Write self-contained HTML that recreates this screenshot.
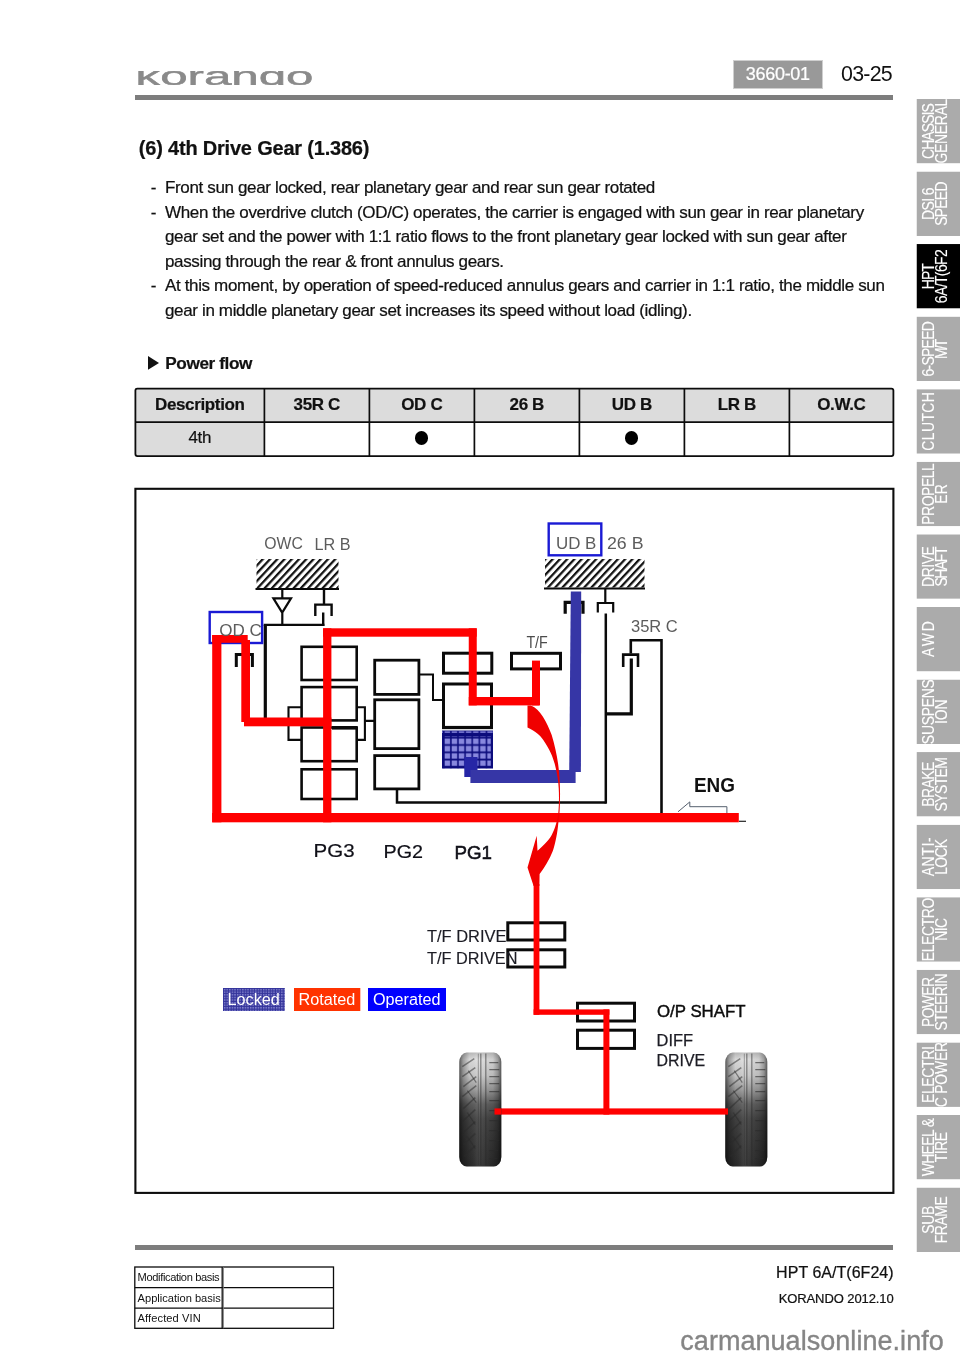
<!DOCTYPE html>
<html lang="en">
<head>
<meta charset="utf-8">
<title>(6) 4th Drive Gear (1.386) - KORANDO 2012.10</title>
<style>
html,body{margin:0;padding:0;background:#fff;}
body{width:960px;height:1358px;position:relative;overflow:hidden;will-change:transform;font-family:"Liberation Sans",sans-serif;}
.t{position:absolute;white-space:nowrap;line-height:1;margin:0;padding:0;-webkit-text-stroke:0.22px currentColor;}
.abs{position:absolute;}
.rule{position:absolute;left:135px;width:758px;background:#7d7d7d;}
table{border-collapse:collapse;position:absolute;table-layout:fixed;}
#pf td,#pf th{-webkit-text-stroke:0.2px currentColor;border:0;padding:0 0 1.2px 0;text-align:center;font-size:17px;letter-spacing:-0.35px;color:#111;}
#pf th{background:#dcdcdc;font-weight:700;}
#pf td.h{background:#dcdcdc;padding-bottom:2.8px;}
.dot{display:inline-block;width:13.4px;height:13.4px;border-radius:50%;background:#000;vertical-align:middle;position:relative;top:-1px;}
#ft td{border:0;padding:0 0 0 2.9px;font-size:11.1px;letter-spacing:0;line-height:12px;color:#111;white-space:nowrap;overflow:hidden;}
svg text{font-family:"Liberation Sans",sans-serif;}
</style>
</head>
<body>

<!-- header -->
<div class="abs" id="logo" style="left:135px;top:70.6px;width:180px;height:14.6px;overflow:hidden;"><svg width="180" height="15" viewBox="0 0 180 15" style="display:block"><text x="0.5" y="13.9" font-size="25.6" font-weight="400" fill="#8a8a8a" stroke="#8a8a8a" stroke-width="0.45" textLength="178" lengthAdjust="spacingAndGlyphs">korando</text></svg></div>
<div class="rule" style="top:95px;height:5px;"></div>
<div class="abs" style="left:733px;top:60px;width:89.5px;height:28.5px;background:#999;box-sizing:border-box;border:1.5px solid #cfcfcf;"></div>
<div class="t " style="left:745.8px;top:65.16px;font-size:18px;letter-spacing:-0.3px;font-weight:400;color:#fff;">3660-01</div>
<div class="t " style="left:841px;top:63.88px;font-size:21.4px;letter-spacing:-0.75px;font-weight:400;color:#111;-webkit-text-stroke:0;">03-25</div>
<!-- side tabs -->
<svg class="abs" id="tabs" style="left:0;top:0;" width="960" height="1358" viewBox="0 0 960 1358">
<svg x="916.5" y="98.90" width="43.5" height="64.5">
<rect width="43.5" height="64.5" fill="#ababab"/>
<text transform="translate(17.7 32.2) rotate(-90) scale(0.87 1)" x="-0.49" text-anchor="middle" font-size="16.0" letter-spacing="-0.99" fill="#fff" stroke="#fff" stroke-width="0.12">CHASSIS</text>
<text transform="translate(30.1 32.2) rotate(-90) scale(0.87 1)" x="-0.18" text-anchor="middle" font-size="16.0" letter-spacing="-0.35" fill="#fff" stroke="#fff" stroke-width="0.12">GENERAL</text>
</svg>
<svg x="916.5" y="171.48" width="43.5" height="64.5">
<rect width="43.5" height="64.5" fill="#ababab"/>
<text transform="translate(17.7 32.2) rotate(-90) scale(0.87 1)" x="-0.34" text-anchor="middle" font-size="16.0" letter-spacing="-0.68" fill="#fff" stroke="#fff" stroke-width="0.12">DSI 6</text>
<text transform="translate(30.1 32.2) rotate(-90) scale(0.87 1)" x="-0.41" text-anchor="middle" font-size="16.0" letter-spacing="-0.81" fill="#fff" stroke="#fff" stroke-width="0.12">SPEED</text>
</svg>
<svg x="916.5" y="244.05" width="43.5" height="64.5">
<rect width="43.5" height="64.5" fill="#000"/>
<text transform="translate(17.7 32.2) rotate(-90) scale(0.87 1)" x="-0.46" text-anchor="middle" font-size="16.0" letter-spacing="-0.92" fill="#fff" stroke="#fff" stroke-width="0.12">HPT</text>
<text transform="translate(30.1 32.2) rotate(-90) scale(0.87 1)" x="-0.33" text-anchor="middle" font-size="16.0" letter-spacing="-0.65" fill="#fff" stroke="#fff" stroke-width="0.12">6A/T(6F2</text>
</svg>
<svg x="916.5" y="316.62" width="43.5" height="64.5">
<rect width="43.5" height="64.5" fill="#ababab"/>
<text transform="translate(17.7 32.2) rotate(-90) scale(0.87 1)" x="-0.42" text-anchor="middle" font-size="16.0" letter-spacing="-0.83" fill="#fff" stroke="#fff" stroke-width="0.12">6-SPEED</text>
<text transform="translate(30.1 32.2) rotate(-90) scale(0.87 1)" x="-1.08" text-anchor="middle" font-size="16.0" letter-spacing="-2.17" fill="#fff" stroke="#fff" stroke-width="0.12">M/T</text>
</svg>
<svg x="916.5" y="389.20" width="43.5" height="64.5">
<rect width="43.5" height="64.5" fill="#ababab"/>
<text transform="translate(17.7 32.2) rotate(-90) scale(0.87 1)" x="0.25" text-anchor="middle" font-size="16.0" letter-spacing="0.50" fill="#fff" stroke="#fff" stroke-width="0.12">CLUTCH</text>
</svg>
<svg x="916.5" y="461.77" width="43.5" height="64.5">
<rect width="43.5" height="64.5" fill="#ababab"/>
<text transform="translate(17.7 32.2) rotate(-90) scale(0.87 1)" x="-0.25" text-anchor="middle" font-size="16.0" letter-spacing="-0.50" fill="#fff" stroke="#fff" stroke-width="0.12">PROPELL</text>
<text transform="translate(30.1 32.2) rotate(-90) scale(0.87 1)" x="0.23" text-anchor="middle" font-size="16.0" letter-spacing="0.46" fill="#fff" stroke="#fff" stroke-width="0.12">ER</text>
</svg>
<svg x="916.5" y="534.35" width="43.5" height="64.5">
<rect width="43.5" height="64.5" fill="#ababab"/>
<text transform="translate(17.7 32.2) rotate(-90) scale(0.87 1)" x="-0.25" text-anchor="middle" font-size="16.0" letter-spacing="-0.49" fill="#fff" stroke="#fff" stroke-width="0.12">DRIVE</text>
<text transform="translate(30.1 32.2) rotate(-90) scale(0.87 1)" x="-0.80" text-anchor="middle" font-size="16.0" letter-spacing="-1.59" fill="#fff" stroke="#fff" stroke-width="0.12">SHAFT</text>
</svg>
<svg x="916.5" y="606.93" width="43.5" height="64.5">
<rect width="43.5" height="64.5" fill="#ababab"/>
<text transform="translate(17.7 32.2) rotate(-90) scale(0.87 1)" x="1.13" text-anchor="middle" font-size="16.0" letter-spacing="2.25" fill="#fff" stroke="#fff" stroke-width="0.12">AWD</text>
</svg>
<svg x="916.5" y="679.50" width="43.5" height="64.5">
<rect width="43.5" height="64.5" fill="#ababab"/>
<text transform="translate(17.7 32.2) rotate(-90) scale(0.87 1)" x="-0.16" text-anchor="middle" font-size="16.0" letter-spacing="-0.31" fill="#fff" stroke="#fff" stroke-width="0.12">SUSPENS</text>
<text transform="translate(30.1 32.2) rotate(-90) scale(0.87 1)" x="-0.04" text-anchor="middle" font-size="16.0" letter-spacing="-0.09" fill="#fff" stroke="#fff" stroke-width="0.12">ION</text>
</svg>
<svg x="916.5" y="752.08" width="43.5" height="64.5">
<rect width="43.5" height="64.5" fill="#ababab"/>
<text transform="translate(17.7 32.2) rotate(-90) scale(0.87 1)" x="-0.32" text-anchor="middle" font-size="16.0" letter-spacing="-0.65" fill="#fff" stroke="#fff" stroke-width="0.12">BRAKE</text>
<text transform="translate(30.1 32.2) rotate(-90) scale(0.87 1)" x="-0.33" text-anchor="middle" font-size="16.0" letter-spacing="-0.67" fill="#fff" stroke="#fff" stroke-width="0.12">SYSTEM</text>
</svg>
<svg x="916.5" y="824.65" width="43.5" height="64.5">
<rect width="43.5" height="64.5" fill="#ababab"/>
<text transform="translate(17.7 32.2) rotate(-90) scale(0.87 1)" x="0.38" text-anchor="middle" font-size="16.0" letter-spacing="0.76" fill="#fff" stroke="#fff" stroke-width="0.12">ANTI-</text>
<text transform="translate(30.1 32.2) rotate(-90) scale(0.87 1)" x="-0.38" text-anchor="middle" font-size="16.0" letter-spacing="-0.75" fill="#fff" stroke="#fff" stroke-width="0.12">LOCK</text>
</svg>
<svg x="916.5" y="897.23" width="43.5" height="64.5">
<rect width="43.5" height="64.5" fill="#ababab"/>
<text transform="translate(17.7 32.2) rotate(-90) scale(0.87 1)" x="-0.21" text-anchor="middle" font-size="16.0" letter-spacing="-0.42" fill="#fff" stroke="#fff" stroke-width="0.12">ELECTRO</text>
<text transform="translate(30.1 32.2) rotate(-90) scale(0.87 1)" x="-0.30" text-anchor="middle" font-size="16.0" letter-spacing="-0.60" fill="#fff" stroke="#fff" stroke-width="0.12">NIC</text>
</svg>
<svg x="916.5" y="969.80" width="43.5" height="64.5">
<rect width="43.5" height="64.5" fill="#ababab"/>
<text transform="translate(17.7 32.2) rotate(-90) scale(0.87 1)" x="-0.36" text-anchor="middle" font-size="16.0" letter-spacing="-0.72" fill="#fff" stroke="#fff" stroke-width="0.12">POWER</text>
<text transform="translate(30.1 32.2) rotate(-90) scale(0.87 1)" x="-0.32" text-anchor="middle" font-size="16.0" letter-spacing="-0.64" fill="#fff" stroke="#fff" stroke-width="0.12">STEERIN</text>
</svg>
<svg x="916.5" y="1042.38" width="43.5" height="64.5">
<rect width="43.5" height="64.5" fill="#ababab"/>
<text transform="translate(17.7 32.2) rotate(-90) scale(0.87 1)" x="-0.16" text-anchor="middle" font-size="16.0" letter-spacing="-0.32" fill="#fff" stroke="#fff" stroke-width="0.12">ELECTRI</text>
<text transform="translate(30.1 32.2) rotate(-90) scale(0.87 1)" x="-0.12" text-anchor="middle" font-size="16.0" letter-spacing="-0.23" fill="#fff" stroke="#fff" stroke-width="0.12">C POWER</text>
</svg>
<svg x="916.5" y="1114.95" width="43.5" height="64.5">
<rect width="43.5" height="64.5" fill="#ababab"/>
<text transform="translate(17.7 32.2) rotate(-90) scale(0.87 1)" x="-0.36" text-anchor="middle" font-size="16.0" letter-spacing="-0.72" fill="#fff" stroke="#fff" stroke-width="0.12">WHEEL &amp;</text>
<text transform="translate(30.1 32.2) rotate(-90) scale(0.87 1)" x="-0.25" text-anchor="middle" font-size="16.0" letter-spacing="-0.51" fill="#fff" stroke="#fff" stroke-width="0.12">TIRE</text>
</svg>
<svg x="916.5" y="1187.53" width="43.5" height="64.5">
<rect width="43.5" height="64.5" fill="#ababab"/>
<text transform="translate(17.7 32.2) rotate(-90) scale(0.87 1)" x="-0.23" text-anchor="middle" font-size="16.0" letter-spacing="-0.45" fill="#fff" stroke="#fff" stroke-width="0.12">SUB</text>
<text transform="translate(30.1 32.2) rotate(-90) scale(0.87 1)" x="-0.24" text-anchor="middle" font-size="16.0" letter-spacing="-0.48" fill="#fff" stroke="#fff" stroke-width="0.12">FRAME</text>
</svg>
</svg>
<!-- content -->
<div class="t " style="left:138.8px;top:138.07px;font-size:20px;letter-spacing:-0.2px;font-weight:700;color:#111;">(6) 4th Drive Gear (1.386)</div>
<div class="t " style="left:150.8px;top:179.01px;font-size:17px;letter-spacing:0px;font-weight:400;color:#111;">-</div>
<div class="t " style="left:165px;top:179.01px;font-size:17px;letter-spacing:-0.355px;font-weight:400;color:#111;">Front sun gear locked, rear planetary gear and rear sun gear rotated</div>
<div class="t " style="left:150.8px;top:203.58px;font-size:17px;letter-spacing:0px;font-weight:400;color:#111;">-</div>
<div class="t " style="left:165px;top:203.58px;font-size:17px;letter-spacing:-0.355px;font-weight:400;color:#111;">When the overdrive clutch (OD/C) operates, the carrier is engaged with sun gear in rear planetary</div>
<div class="t " style="left:165px;top:228.15px;font-size:17px;letter-spacing:-0.355px;font-weight:400;color:#111;">gear set and the power with 1:1 ratio flows to the front planetary gear locked with sun gear after</div>
<div class="t " style="left:165px;top:252.72px;font-size:17px;letter-spacing:-0.355px;font-weight:400;color:#111;">passing through the rear &amp; front annulus gears.</div>
<div class="t " style="left:150.8px;top:277.29px;font-size:17px;letter-spacing:0px;font-weight:400;color:#111;">-</div>
<div class="t " style="left:165px;top:277.29px;font-size:17px;letter-spacing:-0.355px;font-weight:400;color:#111;">At this moment, by operation of speed-reduced annulus gears and carrier in 1:1 ratio, the middle sun</div>
<div class="t " style="left:165px;top:301.86px;font-size:17px;letter-spacing:-0.355px;font-weight:400;color:#111;">gear in middle planetary gear set increases its speed without load (idling).</div>
<svg class="abs" style="left:148px;top:356px;" width="12" height="14" viewBox="0 0 12 14"><polygon points="0,0 11,6.9 0,13.8" fill="#111"/></svg>
<div class="t " style="left:165.3px;top:354.94px;font-size:17.2px;letter-spacing:-0.4px;font-weight:700;color:#111;">Power flow</div>
<table id="pf" style="left:135.3px;top:388.4px;width:758px;">
<colgroup><col style="width:129px"><col style="width:105px"><col style="width:105px"><col style="width:105px"><col style="width:105px"><col style="width:105px"><col style="width:104px"></colgroup>
<tr style="height:34px"><th>Description</th><th>35R C</th><th>OD C</th><th>26 B</th><th>UD B</th><th>LR B</th><th>O.W.C</th></tr>
<tr style="height:33.6px"><td class="h">4th</td><td></td><td><span class="dot"></span></td><td></td><td><span class="dot"></span></td><td></td><td></td></tr>
</table>
<svg class="abs" style="left:0;top:0;pointer-events:none" width="960" height="1358" viewBox="0 0 960 1358"><g fill="none" stroke="#0c0c0c" stroke-width="1.5"><rect x="135.4" y="388.6" width="758" height="67.5" rx="2" stroke-width="1.8"/><path d="M135.4 422.2H893.4" stroke-width="1.8"/><path stroke-width="1.7" d="M264.4 388.6V456.1M369.4 388.6V456.1M474.4 388.6V456.1M579.4 388.6V456.1M684.4 388.6V456.1M789.4 388.6V456.1"/><rect x="135.4" y="488.8" width="758" height="704.1" stroke-width="2.1"/><g stroke-width="1.3"><rect x="134.8" y="1267" width="198.7" height="61.3"/><path d="M134.8 1287.6H333.5M134.8 1308.1H333.5M222.2 1267V1328.3"/><path d="M223.4 1267V1328.3" stroke="#777" stroke-width="0.9"/></g></g></svg>
<svg class="abs" id="diagram" style="left:0;top:0;" width="960" height="1358" viewBox="0 0 960 1358">
<defs>
  <pattern id="hatch" width="5.3" height="5.3" patternUnits="userSpaceOnUse" patternTransform="rotate(-47)">
    <rect x="0" y="0" width="5.3" height="2.25" fill="#111"/>
  </pattern>
  <pattern id="grid" x="443.1" y="729.9" width="7.1" height="7.3" patternUnits="userSpaceOnUse">
    <rect width="7.1" height="7.3" fill="#0c0c7c"/>
    <rect x="1.5" y="1.4" width="5.5" height="5.5" fill="#8888de"/>
  </pattern>
  <pattern id="fine" x="223" y="988" width="2.6" height="2.6" patternUnits="userSpaceOnUse">
    <rect width="2.6" height="2.6" fill="#33339a"/>
    <rect x="1" y="1" width="1.3" height="1.3" fill="#9a9ade"/>
  </pattern>
  <linearGradient id="tireV" x1="0" y1="0" x2="0" y2="1">
    <stop offset="0" stop-color="#bdbdbd"/>
    <stop offset="0.06" stop-color="#e0e0e0"/>
    <stop offset="0.2" stop-color="#cacaca"/>
    <stop offset="0.33" stop-color="#989898"/>
    <stop offset="0.45" stop-color="#5c5c5c"/>
    <stop offset="0.58" stop-color="#404040"/>
    <stop offset="0.75" stop-color="#363636"/>
    <stop offset="1" stop-color="#2a2a2a"/>
  </linearGradient>
  <linearGradient id="tireH" x1="0" y1="0" x2="1" y2="0">
    <stop offset="0" stop-color="#000" stop-opacity="0.6"/>
    <stop offset="0.09" stop-color="#000" stop-opacity="0.3"/>
    <stop offset="0.24" stop-color="#000" stop-opacity="0.04"/>
    <stop offset="0.45" stop-color="#fff" stop-opacity="0.1"/>
    <stop offset="0.8" stop-color="#000" stop-opacity="0.08"/>
    <stop offset="0.92" stop-color="#000" stop-opacity="0.3"/>
    <stop offset="1" stop-color="#000" stop-opacity="0.6"/>
  </linearGradient>
  </defs>

<!-- ===== black structure ===== -->
<g fill="none" stroke="#0a0a0a" stroke-linecap="butt" stroke-linejoin="miter">
  <!-- ground hatches -->
  <rect x="256.5" y="559" width="82" height="29" fill="url(#hatch)" stroke="none"/>
  <path d="M255.5 589H339" stroke-width="2.2"/>
  <rect x="545" y="559" width="99.5" height="28.5" fill="url(#hatch)" stroke="none"/>
  <path d="M544 588.5H645" stroke-width="2.2"/>

  <!-- OWC triangle + LR B brake -->
  <path d="M282.3 589V598M273.4 598.4H291L282.2 612.6ZM282.3 612V624.8" stroke-width="2.2"/>
  <path d="M324 589V604M315.3 616V604.6H331.6V616M323.2 612.5V625.9" stroke-width="2.4"/>
  <path d="M265.3 718V624.8" stroke-width="3.2"/>
  <path d="M263.7 624.8H324.4" stroke-width="2.3"/>

  <!-- OD C clutch bracket -->
  <path d="M236.3 667V654.6H252.4V667" stroke-width="3"/>

  <!-- PG3 -->
  <rect x="301.6" y="646.8" width="55.1" height="33.2" stroke-width="2.6"/>
  <rect x="301.6" y="687.1" width="55.1" height="33.3" stroke-width="2.6"/>
  <rect x="301.6" y="727.5" width="55.1" height="33.7" stroke-width="2.6"/>
  <path d="M332 727.8H357" stroke-width="3.6"/>
  <rect x="301.6" y="769.3" width="55.1" height="29.7" stroke-width="2.6"/>
  <path d="M301 707.2H288.5V739.9H301M357.3 707.2H364.9V739.9H357.3M364.9 720.9H374" stroke-width="2.1"/>

  <!-- PG2 -->
  <rect x="374.7" y="660.2" width="44.2" height="34.2" stroke-width="2.8"/>
  <rect x="374.7" y="699.8" width="44.2" height="48.8" stroke-width="2.8"/>
  <rect x="374.7" y="755.6" width="44.2" height="33.3" stroke-width="2.8"/>
  <path d="M420 674.6H433V700H443" stroke-width="2"/>
  <path d="M397 789.5V802.5H605.8" stroke-width="2.5"/>

  <!-- PG1 -->
  <rect x="443.5" y="653.2" width="48.3" height="20" stroke-width="3"/>
  <rect x="443.5" y="684" width="48" height="43.4" stroke-width="3"/>
  <path d="M442 727.6H493" stroke-width="3.4"/>

  <!-- T/F -->
  <rect x="511.5" y="653.3" width="49" height="15.6" stroke-width="3"/>

  <!-- UD B / 26 B brakes -->
  <path d="M565.2 613.8V602.4H583V613.8" stroke-width="3.2"/>
  <path d="M605.3 588.5V602M597.8 612.5V603H613.2V612.5" stroke-width="2.2"/>
  <path d="M605.8 613.5V803.7" stroke-width="2.5"/>

  <!-- 35R C -->
  <path d="M630.8 653.5V640.3H661.5V813" stroke-width="2.6"/>
  <path d="M623.2 667V654.6H638V667" stroke-width="2.6"/>
  <path d="M631.3 658.5V713.8H605.8" stroke-width="3.2"/>

  <!-- ENG arrow outline -->
  <path d="M726.9 813V806.7H689.8V801.9L678 811.8" stroke="#56606e" stroke-width="1"/>
  <path d="M739 821.3H746" stroke-width="1.2" stroke="#222"/>

  <!-- T/F drive / driven / OP shaft / diff -->
  <rect x="507.8" y="922.8" width="57" height="17.2" stroke-width="3"/>
  <rect x="507.8" y="949.8" width="57" height="17.2" stroke-width="3"/>
  <rect x="577.5" y="1003.2" width="57" height="17.8" stroke-width="3"/>
  <rect x="577.5" y="1030.2" width="57" height="18.2" stroke-width="3"/>
</g>

<!-- ===== blue (operated / locked) ===== -->
<rect x="442" y="730.3" width="51" height="38" fill="url(#grid)"/>
<rect x="442" y="732.9" width="51" height="3.5" fill="#0c0c7c"/>
<rect x="443.1" y="734" width="48.8" height="33.3" fill="none" stroke="#0c0c7c" stroke-width="2.2"/>
<rect x="442" y="729.3" width="51" height="1.2" fill="#fff" fill-opacity="0.6"/>
<g fill="#3636a6">
  <rect x="464.3" y="757" width="13.2" height="20" fill="#2626a6"/>
  <rect x="470.4" y="770" width="105.2" height="13"/>
  <polygon points="570.8,591.5 581.2,591.5 580.9,772 569.2,772"/>
</g>
<g fill="none" stroke="#1a1ad4" stroke-width="2.4">
  <rect x="209.7" y="612" width="52.4" height="31"/>
  <rect x="548.7" y="523.5" width="52.6" height="31.8"/>
</g>

<!-- ===== red (rotated) ===== -->
<g fill="#ff0000">
  <rect x="212.2" y="635" width="9.2" height="187.3"/>
  <rect x="212.2" y="635" width="35.5" height="7.8"/>
  <rect x="241.3" y="640" width="8.7" height="82"/>
  <rect x="244" y="717.5" width="87.4" height="8.8"/>
  <rect x="323.1" y="628.3" width="8.3" height="194"/>
  <rect x="323.1" y="628.3" width="153.6" height="8.4"/>
  <rect x="468.75" y="628.3" width="8" height="77.1"/>
  <rect x="468.75" y="697" width="70.5" height="8.4"/>
  <rect x="532" y="660.6" width="8" height="44.8"/>
  <rect x="212.2" y="813" width="526.6" height="9.3"/>
  <rect x="533.6" y="884" width="5.8" height="130.8"/>
  <rect x="533.6" y="1009.4" width="75.8" height="5.4"/>
  <rect x="603.4" y="1009.4" width="6" height="105.2"/>
  <rect x="494" y="1108.4" width="234" height="6.2"/>
  <!-- curved arrow -->
  <path fill="#f00000" d="M527.5 705.4 L531 705.4 C540 709 547 722 551.7 735 C555 746 557.6 758 558.6 768 C559.8 778 560.2 790 560 797 C560 806 559.6 815 558.3 823.3 C557.6 832 555.5 843 553 850.5 C549.5 860 544 868 539.6 874 L539.4 886 L533.6 886 L527.5 867.5 L536.7 835.8 L537.5 850.8 C543 846 549 840 551.7 835 C555 829 557.6 820 558.3 813.3 C559 806 559.2 796 558.7 788.3 C558.4 782 557.8 776 555 765 C553 757 550 750 543.3 740 C540 735 536 731.5 527.5 727.5 Z"/>
</g>

<!-- ===== tires ===== -->
<g transform="translate(459.3 1052.6)">
    <rect x="0" y="0" width="42" height="114" rx="7.5" ry="9.5" fill="url(#tireV)"/>
    <rect x="0" y="0" width="42" height="114" rx="7.5" ry="9.5" fill="url(#tireH)"/>
    <g stroke="#2a2a2a" stroke-opacity="0.5" fill="none">
      <path d="M21.5 1V113M26.5 1V113" stroke-width="1.3"/>
      <path d="M19 1V113" stroke-width="0.8" stroke-opacity="0.5"/>
      <path d="M3 14L15 6M3 24L16 15M4 34L17 24M3 44L17 33M4 56L16 45M4 68L16 57M4 80L16 69M4 92L16 81M5 104L16 93" stroke-width="1.5"/>
      <path d="M9 18L17 30M8 38L17 50M8 60L16 72M8 84L16 96" stroke-width="1.2"/>
      <path d="M30 10H39M30 17H40M30 24H40M30 31H40M30 39H40M30 48H40M30 58H40M30 68H40M30 78H40M30 88H40M30 98H39M30 106H38" stroke-width="1.2" stroke-opacity="0.6"/>
    </g>
</g>
<g transform="translate(725.3 1052.6)">
    <rect x="0" y="0" width="42" height="114" rx="7.5" ry="9.5" fill="url(#tireV)"/>
    <rect x="0" y="0" width="42" height="114" rx="7.5" ry="9.5" fill="url(#tireH)"/>
    <g stroke="#2a2a2a" stroke-opacity="0.5" fill="none">
      <path d="M21.5 1V113M26.5 1V113" stroke-width="1.3"/>
      <path d="M19 1V113" stroke-width="0.8" stroke-opacity="0.5"/>
      <path d="M3 14L15 6M3 24L16 15M4 34L17 24M3 44L17 33M4 56L16 45M4 68L16 57M4 80L16 69M4 92L16 81M5 104L16 93" stroke-width="1.5"/>
      <path d="M9 18L17 30M8 38L17 50M8 60L16 72M8 84L16 96" stroke-width="1.2"/>
      <path d="M30 10H39M30 17H40M30 24H40M30 31H40M30 39H40M30 48H40M30 58H40M30 68H40M30 78H40M30 88H40M30 98H39M30 106H38" stroke-width="1.2" stroke-opacity="0.6"/>
    </g>
</g>
<rect x="494.5" y="1108.4" width="7" height="6.2" fill="#ff0000"/>
<rect x="725" y="1108.4" width="3" height="6.2" fill="#ff0000"/>

<!-- ===== legend ===== -->
<rect x="223" y="988" width="61.8" height="23" fill="url(#fine)"/>
<rect x="294" y="988" width="66.3" height="23" fill="#ff3300"/>
<rect x="368" y="988" width="78" height="23" fill="#0000ff"/>

<!-- ===== labels ===== -->
<g font-size="16" fill="#5c5c5c">
  <text x="264.2" y="548.8" textLength="38.6" lengthAdjust="spacingAndGlyphs">OWC</text>
  <text x="314.6" y="550.4" textLength="36" lengthAdjust="spacingAndGlyphs">LR B</text>
  <text x="556" y="549" textLength="40.4" lengthAdjust="spacingAndGlyphs">UD B</text>
  <text x="607" y="549" textLength="36.5" lengthAdjust="spacingAndGlyphs">26 B</text>
  <text x="219.2" y="635.6" textLength="42.6" lengthAdjust="spacingAndGlyphs">OD C</text>
  <text x="526.4" y="648.2" font-size="15.8" fill="#4c4c4c" textLength="21.4" lengthAdjust="spacingAndGlyphs">T/F</text>
  <text x="631" y="632.2" textLength="46.8" lengthAdjust="spacingAndGlyphs">35R C</text>
</g>
<text x="694" y="792" font-size="20" font-weight="700" fill="#111" textLength="41" lengthAdjust="spacingAndGlyphs">ENG</text>
<g font-size="19" fill="#101018" stroke="#101018" stroke-width="0.2">
  <text x="313.6" y="856.5" textLength="41" lengthAdjust="spacingAndGlyphs">PG3</text>
  <text x="383.6" y="857.5" textLength="39.5" lengthAdjust="spacingAndGlyphs">PG2</text>
  <text x="454.4" y="858.5" textLength="37.5" lengthAdjust="spacingAndGlyphs" stroke="#101018" stroke-width="0.55">PG1</text>
</g>
<g font-size="16" fill="#1c1c24" stroke="#1c1c24" stroke-width="0.15">
  <text x="427" y="942" textLength="79.5" lengthAdjust="spacingAndGlyphs">T/F DRIVE</text>
  <text x="427" y="964.4" textLength="90.5" lengthAdjust="spacingAndGlyphs">T/F DRIVEN</text>
  <text x="657" y="1017" textLength="88.6" lengthAdjust="spacingAndGlyphs" fill="#0c0c0c" stroke="#0c0c0c" stroke-width="0.4">O/P SHAFT</text>
  <text x="656.6" y="1045.5" textLength="36.4" lengthAdjust="spacingAndGlyphs" stroke="#1c1c24" stroke-width="0.25">DIFF</text>
  <text x="656.6" y="1066" textLength="48.6" lengthAdjust="spacingAndGlyphs" stroke="#1c1c24" stroke-width="0.25">DRIVE</text>
</g>
<g font-size="16" fill="#fff">
  <text x="227.5" y="1004.7" textLength="52.3" lengthAdjust="spacingAndGlyphs">Locked</text>
  <text x="298.5" y="1004.7" textLength="56.8" lengthAdjust="spacingAndGlyphs">Rotated</text>
  <text x="373" y="1004.7" textLength="67.5" lengthAdjust="spacingAndGlyphs">Operated</text>
</g>
</svg>

<!-- footer -->
<div class="rule" style="top:1245px;height:5px;"></div>
<table id="ft" style="left:134.7px;top:1266.9px;width:198.7px;">
<colgroup><col style="width:87.8px"><col style="width:110.9px"></colgroup>
<tr style="height:20.5px"><td style="letter-spacing:-0.36px">Modification basis</td><td></td></tr>
<tr style="height:20.5px"><td>Application basis</td><td></td></tr>
<tr style="height:20.5px"><td style="letter-spacing:0.1px">Affected VIN</td><td></td></tr>
</table>
<div class="t " style="right:66.39999999999998px;top:1264.86px;font-size:16px;letter-spacing:0.03px;font-weight:400;color:#111;">HPT 6A/T(6F24)</div>
<div class="t " style="right:66.39999999999998px;top:1292.00px;font-size:13px;letter-spacing:-0.09px;font-weight:400;color:#111;">KORANDO 2012.10</div>
<div class="t " style="left:680.3px;top:1327.54px;font-size:27px;letter-spacing:0.04px;font-weight:400;color:#858585;-webkit-text-stroke:0.35px #858585;">carmanualsonline.info</div>
</body>
</html>
